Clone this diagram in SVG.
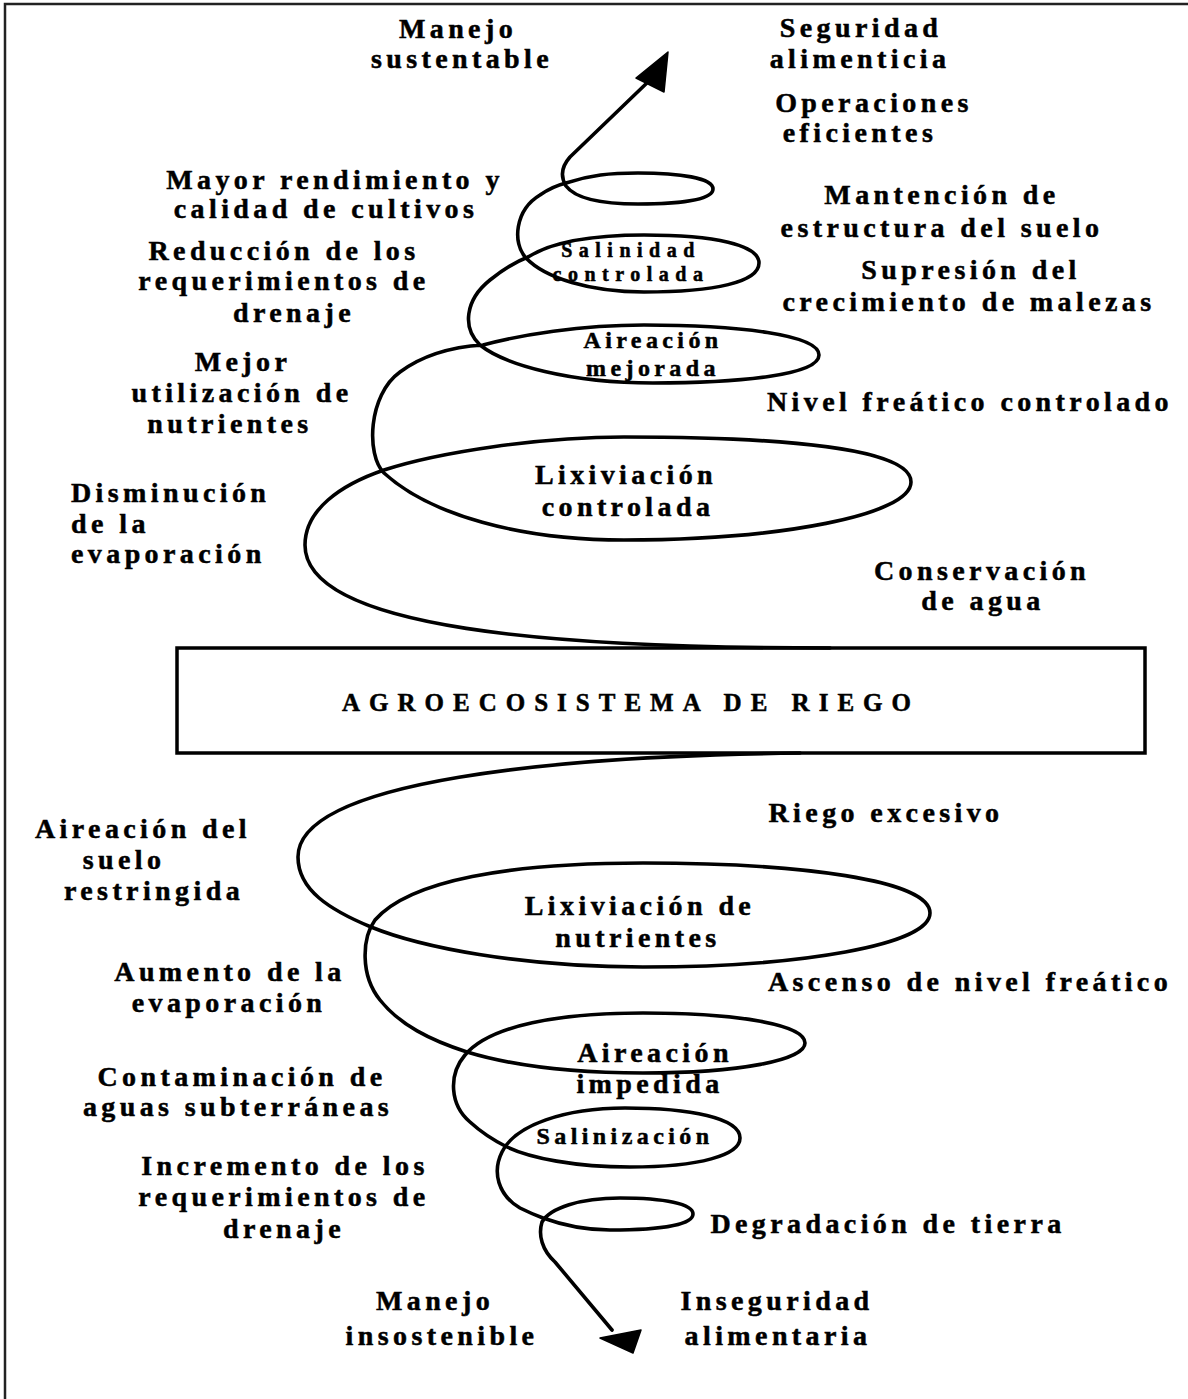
<svg xmlns="http://www.w3.org/2000/svg" width="1188" height="1399" viewBox="0 0 1188 1399">
<style>
text{font-family:"Liberation Serif","Times New Roman",serif;font-weight:bold;fill:#000;stroke:#000;stroke-width:0.5;text-anchor:middle}
.t{font-size:28px;letter-spacing:4.4px}
.m{font-size:24px;letter-spacing:4.4px}
.s{font-size:20px;letter-spacing:6.5px}
.b{font-size:25px;letter-spacing:9px}
.l{text-anchor:start}
.sp{fill:none;stroke:#000;stroke-width:3.6;stroke-linecap:round;stroke-linejoin:round}
.ah{fill:#000;stroke:#000;stroke-width:1.5;stroke-linejoin:round}
</style>
<rect width="1188" height="1399" fill="#fff"/>
<path d="M5,1399 V4 H1188" fill="none" stroke="#222" stroke-width="2.5"/>

<g id="connectors">
  <!-- upper spiral: from box up to arrow -->
  <path class="sp" d="M830,648 C560,648 305,630 305,545 C305,510 340,485 384,470 C440,452 540,437 624,437 C780,437 911,448 911,482 C911,515 780,540 624,540 C520,540 430,515 384,473 C366,455 368,395 400,372 C423,355 450,347 483,345 C520,335 580,325 644,325 C740,325 819,335 819,355 C819,375 740,383 653,383 C570,383 505,365 480,345 C462,328 465,300 490,280 C505,268 515,262 528,257 C555,240 600,235 644,235 C715,235 759,245 759,263 C759,282 715,292 644,292 C590,292 545,278 526,258 C512,243 515,210 540,195 C550,188 558,185 566,183 C590,175 610,173 638,173 C680,173 713,178 713,189 C713,200 680,204 638,204 C600,204 575,198 566,186 C560,176 562,166 570,157 L650,80"/>
  <polygon class="ah" points="668,52 636,78 664,92"/>
  <!-- lower spiral: from box down to arrow -->
  <path class="sp" d="M800,753 C560,756 298,780 298,857 C298,890 330,910 371,927 C420,947 520,967 643,967 C800,967 930,945 930,913 C930,880 800,863 643,863 C510,863 410,880 375,920 C362,938 360,975 380,1000 C400,1025 430,1040 467,1052 C520,1068 580,1073 643,1073 C740,1073 805,1060 805,1043 C805,1025 740,1013 643,1013 C560,1013 490,1025 465,1055 C448,1075 450,1105 470,1122 C482,1133 495,1141 507,1147 C530,1158 575,1167 630,1167 C700,1167 740,1155 740,1138 C740,1118 690,1108 625,1108 C565,1108 515,1125 502,1152 C492,1172 498,1195 520,1208 C528,1212 535,1215 543,1218 C565,1226 585,1230 610,1230 C665,1230 693,1224 693,1214 C693,1204 665,1198 620,1198 C580,1198 550,1208 542,1222 C538,1235 542,1250 555,1262 L612,1330"/>
  <polygon class="ah" points="633,1353 600,1338 641,1330"/>
</g>

<g id="box">
  <rect x="177" y="648" width="968" height="105" fill="none" stroke="#000" stroke-width="3.5"/>
  <text class="b" x="631" y="711">AGROECOSISTEMA DE RIEGO</text>
</g>

<g id="manejo-sustentable"><text class="t" x="458" y="38">Manejo</text><text class="t" x="462" y="68">sustentable</text></g>
<g id="seguridad-alimenticia"><text class="t" x="861" y="37">Seguridad</text><text class="t" x="860" y="68">alimenticia</text></g>
<g id="operaciones-eficientes"><text class="t" x="874" y="112">Operaciones</text><text class="t" x="860" y="142">eficientes</text></g>
<g id="mayor-rendimiento"><text class="t" x="335" y="189">Mayor rendimiento y</text><text class="t" x="326" y="218">calidad de cultivos</text></g>
<g id="mantencion-estructura"><text class="t" x="942" y="204">Mantención de</text><text class="t" x="942" y="237">estructura del suelo</text></g>
<g id="reduccion-drenaje"><text class="t" x="284" y="260">Reducción de los</text><text class="t" x="284" y="290">requerimientos de</text><text class="t" x="294" y="322">drenaje</text></g>
<g id="supresion-malezas"><text class="t" x="971" y="279">Supresión del</text><text class="t" x="969" y="311">crecimiento de malezas</text></g>
<g id="salinidad-controlada"><text class="s" x="631" y="257">Salinidad</text><text class="s" x="631" y="281">controlada</text></g>
<g id="aireacion-mejorada"><text class="m" x="653" y="348">Aireación</text><text class="m" x="653" y="376">mejorada</text></g>
<g id="mejor-nutrientes"><text class="t" x="243" y="371">Mejor</text><text class="t" x="242" y="402">utilización de</text><text class="t" x="230" y="433">nutrientes</text></g>
<g id="nivel-freatico-controlado"><text class="t" x="970" y="411">Nivel freático controlado</text></g>
<g id="lixiviacion-controlada"><text class="t" x="626" y="484">Lixiviación</text><text class="t" x="628" y="516">controlada</text></g>
<g id="disminucion-evaporacion"><text class="t l" x="71" y="502">Disminución</text><text class="t l" x="71" y="533">de la</text><text class="t l" x="71" y="563">evaporación</text></g>
<g id="conservacion-agua"><text class="t" x="982" y="580">Conservación</text><text class="t" x="983" y="610">de agua</text></g>

<g id="riego-excesivo"><text class="t" x="886" y="822">Riego  excesivo</text></g>
<g id="aireacion-restringida"><text class="t" x="143" y="838">Aireación del</text><text class="t" x="124" y="869">suelo</text><text class="t" x="154" y="900">restringida</text></g>
<g id="lixiviacion-nutrientes"><text class="t" x="640" y="915">Lixiviación de</text><text class="t" x="638" y="947">nutrientes</text></g>
<g id="aumento-evaporacion"><text class="t" x="230" y="981">Aumento de la</text><text class="t" x="229" y="1012">evaporación</text></g>
<g id="ascenso-nivel"><text class="t" x="970" y="991">Ascenso de nivel freático</text></g>
<g id="aireacion-impedida"><text class="t" x="655" y="1062">Aireación</text><text class="t" x="650" y="1093">impedida</text></g>
<g id="contaminacion-aguas"><text class="t" x="242" y="1086">Contaminación de</text><text class="t" x="238" y="1116">aguas subterráneas</text></g>
<g id="salinizacion"><text class="m" x="625" y="1144">Salinización</text></g>
<g id="incremento-drenaje"><text class="t" x="285" y="1175">Incremento de los</text><text class="t" x="284" y="1206">requerimientos de</text><text class="t" x="284" y="1238">drenaje</text></g>
<g id="degradacion-tierra"><text class="t" x="888" y="1233">Degradación de tierra</text></g>
<g id="manejo-insostenible"><text class="t" x="435" y="1310">Manejo</text><text class="t" x="442" y="1345">insostenible</text></g>
<g id="inseguridad-alimentaria"><text class="t" x="777" y="1310">Inseguridad</text><text class="t" x="778" y="1345">alimentaria</text></g>
</svg>
